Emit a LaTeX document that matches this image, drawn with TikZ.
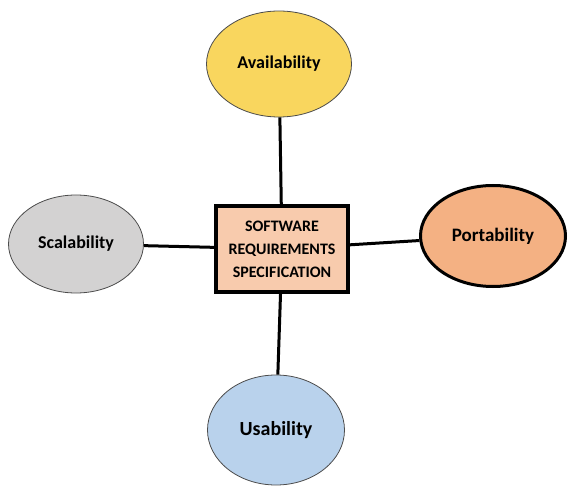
\documentclass[tikz,border=0pt]{standalone}
\usepackage{fontspec}
\setmainfont{Carlito}
\usetikzlibrary{shapes.geometric}
\definecolor{availfill}{HTML}{F9D65E}
\definecolor{scalfill}{HTML}{D3D2D2}
\definecolor{portfill}{HTML}{F4B183}
\definecolor{usabfill}{HTML}{B9D2EC}
\definecolor{srsfill}{HTML}{F8CBAD}
\begin{document}
\begin{tikzpicture}[x=1pt,y=-1pt,font=\bfseries,
  quality/.style={ellipse,draw=black!70,line width=0.8pt,inner sep=0pt,font=\bfseries\fontsize{18}{21}\selectfont},
  link/.style={line width=3pt}]
\useasboundingbox (0,0) rectangle (570,486);
\node[quality,fill=availfill,minimum width=145,minimum height=106] (avail) at (279,64) {Availability};
\node[quality,fill=scalfill,minimum width=135,minimum height=98] (scal) at (76,244) {Scalability};
\node[quality,fill=portfill,draw=black,line width=3pt,minimum width=145,minimum height=101,
  font=\bfseries\fontsize{19}{21}\selectfont] (port) at (493,236) {Portability};
\node[quality,fill=usabfill,minimum width=137,minimum height=110,
  font=\bfseries\fontsize{20}{21}\selectfont] (usab) at (276,430) {Usability};
\node[draw=black,line width=4pt,fill=srsfill,minimum width=132,minimum height=86,align=center,
  font=\bfseries\fontsize{16}{23}\selectfont] (srs) at (282,249) {SOFTWARE\\REQUIREMENTS\\SPECIFICATION};
\draw[link] (avail) -- (srs);
\draw[link] (scal) -- (srs);
\draw[link] (srs) -- (port);
\draw[link] (srs) -- (usab);
\end{tikzpicture}
\end{document}
